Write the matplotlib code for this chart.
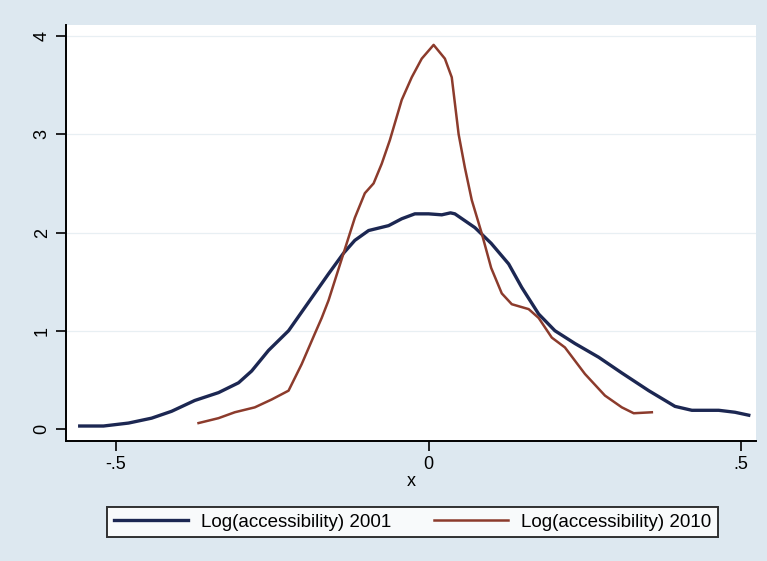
import matplotlib.pyplot as plt

# ------------------ DATA ------------------
x_2001 = [-0.558, -0.52, -0.48, -0.443, -0.411, -0.374, -0.336, -0.304, -0.283, -0.256,
          -0.224, -0.192, -0.16, -0.136, -0.118, -0.096, -0.064, -0.043, -0.022, 0.0,
          0.021, 0.035, 0.042, 0.074, 0.1, 0.128, 0.149, 0.176, 0.202, 0.234,
          0.272, 0.309, 0.352, 0.394, 0.421, 0.464, 0.49, 0.512]
y_2001 = [0.03, 0.03, 0.06, 0.11, 0.18, 0.29, 0.37, 0.47, 0.59, 0.80,
          1.00, 1.29, 1.58, 1.79, 1.92, 2.02, 2.07, 2.14, 2.19, 2.19,
          2.18, 2.20, 2.19, 2.05, 1.89, 1.68, 1.44, 1.17, 1.00, 0.87,
          0.73, 0.57, 0.39, 0.23, 0.19, 0.19, 0.17, 0.14]

x_2010 = [-0.368, -0.336, -0.31, -0.278, -0.251, -0.224, -0.203, -0.182, -0.171, -0.16,
          -0.136, -0.118, -0.102, -0.088, -0.075, -0.062, -0.043, -0.027, -0.011, 0.008,
          0.026, 0.037, 0.048, 0.058, 0.069, 0.085, 0.1, 0.117, 0.133, 0.16,
          0.176, 0.197, 0.218, 0.25, 0.282, 0.309, 0.328, 0.357]
y_2010 = [0.06, 0.11, 0.17, 0.22, 0.30, 0.39, 0.66, 0.97, 1.13, 1.31,
          1.79, 2.15, 2.40, 2.50, 2.70, 2.94, 3.35, 3.58, 3.77, 3.91,
          3.77, 3.58, 3.00, 2.66, 2.33, 1.99, 1.64, 1.38, 1.27, 1.22,
          1.13, 0.93, 0.83, 0.56, 0.34, 0.22, 0.16, 0.17]

x_ticks = [-0.5, 0, 0.5]
x_tick_labels = ["-.5", "0", ".5"]
y_ticks = [0, 1, 2, 3, 4]
labels = ["Log(accessibility) 2001", "Log(accessibility) 2010"]

# ------------------ PLOT ------------------
plt.rcParams['font.family'] = ['Liberation Sans', 'DejaVu Sans']

fig = plt.figure(figsize=(7.67, 5.61), dpi=100, facecolor="#dde8f0")
ax = fig.add_axes([0.086, 0.214, 0.900, 0.741])
ax.set_facecolor("white")

for yv in y_ticks[1:]:
    ax.axhline(yv, color="#e8eff3", lw=0.9, zorder=0)

ax.plot(x_2001, y_2001, color="#1c2752", lw=2.4, label=labels[0])
ax.plot(x_2010, y_2010, color="#8c3b2c", lw=1.8, label=labels[1])

ax.set_xlim(-0.58, 0.524)
ax.set_ylim(-0.122, 4.11)
ax.set_xticks(x_ticks)
ax.set_xticklabels(x_tick_labels)
ax.set_yticks(y_ticks)
ax.set_yticklabels([str(v) for v in y_ticks], rotation=90, va="center")
ax.tick_params(direction="out", length=7, width=1.2, labelsize=13, pad=4)
ax.set_xlabel("x", fontsize=13, labelpad=0)

for s in ["top", "right"]:
    ax.spines[s].set_visible(False)
for s in ["left", "bottom"]:
    ax.spines[s].set_linewidth(1.4)

leg = fig.legend(loc="center", bbox_to_anchor=(0.538, 0.069), ncol=2,
                 fontsize=13.5, frameon=True, fancybox=False, edgecolor="black",
                 handlelength=3.95, handletextpad=0.7, columnspacing=2.3,
                 borderpad=0.35)
leg.get_frame().set_linewidth(1.4)

fig.savefig("out.png", dpi=100, facecolor=fig.get_facecolor())
